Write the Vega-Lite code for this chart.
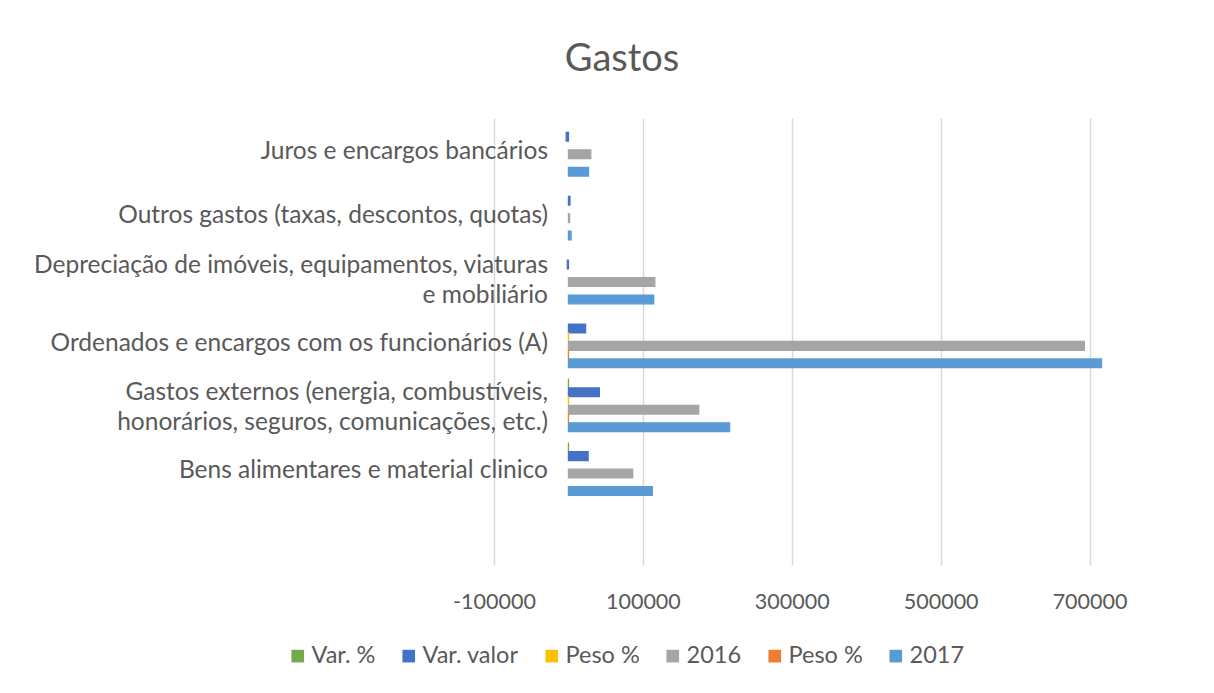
{
  "$schema": "https://vega.github.io/schema/vega-lite/v6.json",
  "width": 670,
  "height": 447,
  "autosize": {"type": "none"},
  "padding": {"left": 494, "top": 118, "right": 50, "bottom": 128},
  "background": "white",
  "title": {
    "text": "Gastos",
    "anchor": "middle",
    "dx": -207,
    "offset": 39,
    "fontSize": 38,
    "font": "Lato",
    "fontWeight": "normal",
    "color": "#595959"
  },
  "data": {
    "values": [
      {"categoria": "Juros e encargos bancários", "serie": "Var. valor", "valor": -3000},
      {"categoria": "Juros e encargos bancários", "serie": "2016", "valor": 30000},
      {"categoria": "Juros e encargos bancários", "serie": "2017", "valor": 27000},
      {"categoria": "Outros gastos (taxas, descontos, quotas)", "serie": "Var. valor", "valor": 2000},
      {"categoria": "Outros gastos (taxas, descontos, quotas)", "serie": "2016", "valor": 1500},
      {"categoria": "Outros gastos (taxas, descontos, quotas)", "serie": "2017", "valor": 3500},
      {"categoria": "Depreciação de imóveis, equipamentos, viaturas\ne mobiliário", "serie": "Var. valor", "valor": -1500},
      {"categoria": "Depreciação de imóveis, equipamentos, viaturas\ne mobiliário", "serie": "2016", "valor": 116000},
      {"categoria": "Depreciação de imóveis, equipamentos, viaturas\ne mobiliário", "serie": "2017", "valor": 114500},
      {"categoria": "Ordenados e encargos com os funcionários (A)", "serie": "Var. valor", "valor": 23000},
      {"categoria": "Ordenados e encargos com os funcionários (A)", "serie": "Peso % 2016", "valor": 62.9},
      {"categoria": "Ordenados e encargos com os funcionários (A)", "serie": "2016", "valor": 693000},
      {"categoria": "Ordenados e encargos com os funcionários (A)", "serie": "Peso % 2017", "valor": 60.2},
      {"categoria": "Ordenados e encargos com os funcionários (A)", "serie": "2017", "valor": 716000},
      {"categoria": "Gastos externos (energia, combustíveis,\nhonorários, seguros, comunicações, etc.)", "serie": "Var. %", "valor": 23.7},
      {"categoria": "Gastos externos (energia, combustíveis,\nhonorários, seguros, comunicações, etc.)", "serie": "Var. valor", "valor": 41500},
      {"categoria": "Gastos externos (energia, combustíveis,\nhonorários, seguros, comunicações, etc.)", "serie": "Peso % 2016", "valor": 15.9},
      {"categoria": "Gastos externos (energia, combustíveis,\nhonorários, seguros, comunicações, etc.)", "serie": "2016", "valor": 175000},
      {"categoria": "Gastos externos (energia, combustíveis,\nhonorários, seguros, comunicações, etc.)", "serie": "Peso % 2017", "valor": 18.2},
      {"categoria": "Gastos externos (energia, combustíveis,\nhonorários, seguros, comunicações, etc.)", "serie": "2017", "valor": 216500},
      {"categoria": "Bens alimentares e material clinico", "serie": "Var. %", "valor": 30.6},
      {"categoria": "Bens alimentares e material clinico", "serie": "Var. valor", "valor": 26400},
      {"categoria": "Bens alimentares e material clinico", "serie": "2016", "valor": 86300},
      {"categoria": "Bens alimentares e material clinico", "serie": "2017", "valor": 112700}
    ]
  },
  "mark": {"type": "bar", "strokeWidth": 1.3},
  "encoding": {
    "y": {
      "field": "categoria",
      "type": "nominal",
      "scale": {
        "domain": [
          "Juros e encargos bancários",
          "Outros gastos (taxas, descontos, quotas)",
          "Depreciação de imóveis, equipamentos, viaturas\ne mobiliário",
          "Ordenados e encargos com os funcionários (A)",
          "Gastos externos (energia, combustíveis,\nhonorários, seguros, comunicações, etc.)",
          "Bens alimentares e material clinico",
          " "
        ],
        "paddingInner": 0.18,
        "paddingOuter": 0.09
      },
      "axis": {
        "title": null,
        "domain": false,
        "ticks": false,
        "grid": false,
        "offset": -74.5,
        "labelPadding": 21,
        "labelLimit": 0,
        "labelFont": "Lato",
        "labelFontSize": 24.5,
        "labelColor": "#595959",
        "labelLineHeight": 30,
        "labelOffset": {"expr": "indexof(datum.value, '\\n') >= 0 ? -12 : 2"},
        "labelExpr": "split(datum.label, '\\n')"
      }
    },
    "yOffset": {
      "field": "serie",
      "type": "nominal",
      "sort": ["Var. %", "Var. valor", "Peso % 2016", "2016", "Peso % 2017", "2017"],
      "scale": {"paddingInner": 0, "paddingOuter": 0}
    },
    "x": {
      "field": "valor",
      "type": "quantitative",
      "scale": {"domain": [-100000, 800000], "nice": false},
      "axis": {
        "title": null,
        "domain": false,
        "ticks": false,
        "values": [-100000, 100000, 300000, 500000, 700000],
        "labelExpr": "'' + datum.value",
        "labelFont": "Lato",
        "labelFontSize": 21.5,
        "labelColor": "#595959",
        "labelPadding": 26,
        "labelFlush": false,
        "gridColor": "#d9d9d9",
        "gridWidth": 1.5
      }
    },
    "color": {
      "field": "serie",
      "type": "nominal",
      "scale": {
        "domain": ["Var. %", "Var. valor", "Peso % 2016", "2016", "Peso % 2017", "2017"],
        "range": ["#70ad47", "#4472c4", "#ffc000", "#a5a5a5", "#ed7d31", "#5b9bd5"]
      },
      "legend": {
        "title": null,
        "orient": "none",
        "direction": "horizontal",
        "legendX": -208,
        "legendY": 526,
        "symbolType": "square",
        "symbolSize": 160,
        "symbolStrokeWidth": 0,
        "labelFont": "Lato",
        "labelFontSize": 23.5,
        "labelColor": "#595959",
        "labelOffset": 2,
        "columnPadding": 21,
        "labelExpr": "indexof(datum.label, 'Peso %') == 0 ? 'Peso %' : datum.label"
      }
    },
    "stroke": {
      "field": "serie",
      "type": "nominal",
      "scale": {
        "domain": ["Var. %", "Var. valor", "Peso % 2016", "2016", "Peso % 2017", "2017"],
        "range": ["#70ad47", "#4472c4", "#ffc000", "#a5a5a5", "#ed7d31", "#5b9bd5"]
      },
      "legend": null
    }
  },
  "config": {
    "view": {"stroke": null}
  }
}
